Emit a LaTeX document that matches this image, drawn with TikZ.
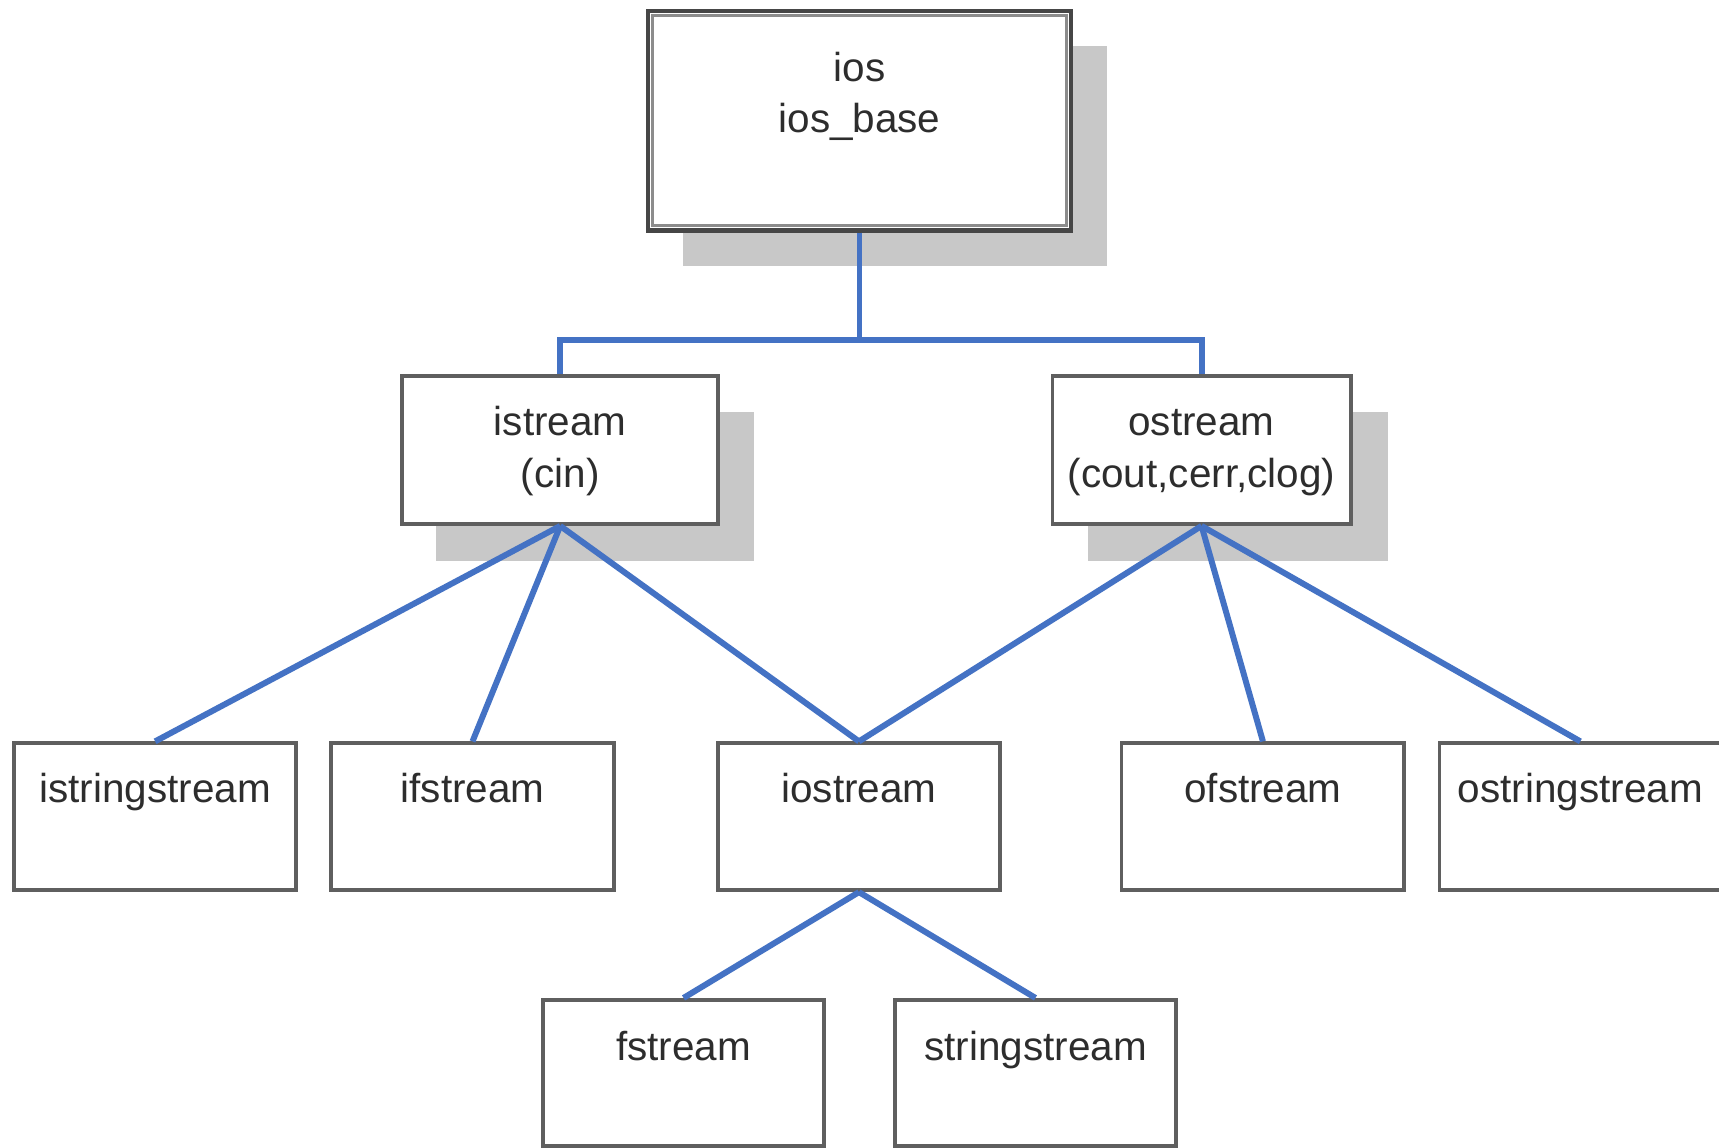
\documentclass[tikz,border=0pt]{standalone}
\usepackage{fontspec}
\setmainfont{Liberation Sans}
\definecolor{connblue}{RGB}{68,114,196}
\definecolor{boxline}{RGB}{95,95,95}
\definecolor{boxdark}{RGB}{70,70,70}
\definecolor{innerline}{RGB}{140,140,140}
\definecolor{shadowgray}{RGB}{200,200,200}
\definecolor{txt}{RGB}{45,45,45}
\begin{document}
\begin{tikzpicture}[x=0.02cm,y=-0.02cm,
  box/.style={draw=boxline, line width=2pt, fill=white, inner sep=0pt, rectangle},
  shadowbox/.style={fill=shadowgray, draw=none, inner sep=0pt, rectangle},
  lbl/.style={anchor=base, inner sep=0pt, font=\fontsize{21}{26}\selectfont, text=txt},
  link/.style={draw=connblue, line width=3.1pt}]
\clip (0,0) rectangle (1568,1047);
\fill[white] (0,0) rectangle (1568,1047);

% shadows
\node[shadowbox, minimum width=7.74cm, minimum height=4.02cm] (iosshadow) at (816.5,142.5) {};
\node[shadowbox, minimum width=5.80cm, minimum height=2.72cm] (istreamshadow) at (543,444) {};
\node[shadowbox, minimum width=5.48cm, minimum height=2.72cm] (ostreamshadow) at (1129,444) {};

% boxes
\node[box, draw=boxdark, line width=2.4pt, minimum width=7.72cm, minimum height=4.0cm] (ios) at (784,110) {};
\draw[innerline, line width=1.5pt] ([shift={(6,6)}]ios.north west) rectangle ([shift={(-6,-6)}]ios.south east);
\node[box, minimum width=5.76cm, minimum height=2.70cm] (istream) at (511,410.5) {};
\node[box, minimum width=5.44cm, minimum height=2.70cm] (ostream) at (1096,410.5) {};

\node[box, minimum width=5.14cm, minimum height=2.68cm] (istringstream) at (141.5,745) {};
\node[box, minimum width=5.16cm, minimum height=2.68cm] (ifstream) at (431,745) {};
\node[box, minimum width=5.14cm, minimum height=2.68cm] (iostream) at (783.5,745) {};
\node[box, minimum width=5.16cm, minimum height=2.68cm] (ofstream) at (1152,745) {};
\node[box, minimum width=5.14cm, minimum height=2.68cm] (ostringstream) at (1441.5,745) {};

\node[box, minimum width=5.14cm, minimum height=2.66cm] (fstream) at (623.5,978.5) {};
\node[box, minimum width=5.14cm, minimum height=2.66cm] (stringstream) at (944.5,978.5) {};

% connectors
\coordinate (bar) at (784,310);
\draw[link] (ios.south) -- (bar);
\draw[link] (istream.north) |- (bar) -| (ostream.north);
\draw[link] (istream.south) -- (istringstream.north);
\draw[link] (istream.south) -- (ifstream.north);
\draw[link] (istream.south) -- (iostream.north);
\draw[link] (ostream.south) -- (iostream.north);
\draw[link] (ostream.south) -- (ofstream.north);
\draw[link] (ostream.south) -- (ostringstream.north);
\draw[link] (iostream.south) -- (fstream.north);
\draw[link] (iostream.south) -- (stringstream.north);

% labels
\node[lbl] (iost1) at (784,74) {ios};
\node[lbl] (iost2) at (784,121) {ios\_base};
\node[lbl] (istreamt1) at (511,397) {istream};
\node[lbl] (istreamt2) at (511,445) {(cin)};
\node[lbl] (ostreamt1) at (1096,397) {ostream};
\node[lbl] (ostreamt2) at (1096,445) {(cout,cerr,clog)};
\node[lbl] (istringstreamt) at (141.5,732) {istringstream};
\node[lbl] (ifstreamt) at (431,732) {ifstream};
\node[lbl] (iostreamt) at (783.5,732) {iostream};
\node[lbl] (ofstreamt) at (1152,732) {ofstream};
\node[lbl] (ostringstreamt) at (1441.5,732) {ostringstream};
\node[lbl] (fstreamt) at (623.5,967) {fstream};
\node[lbl] (stringstreamt) at (944.5,967) {stringstream};
\end{tikzpicture}
\end{document}
